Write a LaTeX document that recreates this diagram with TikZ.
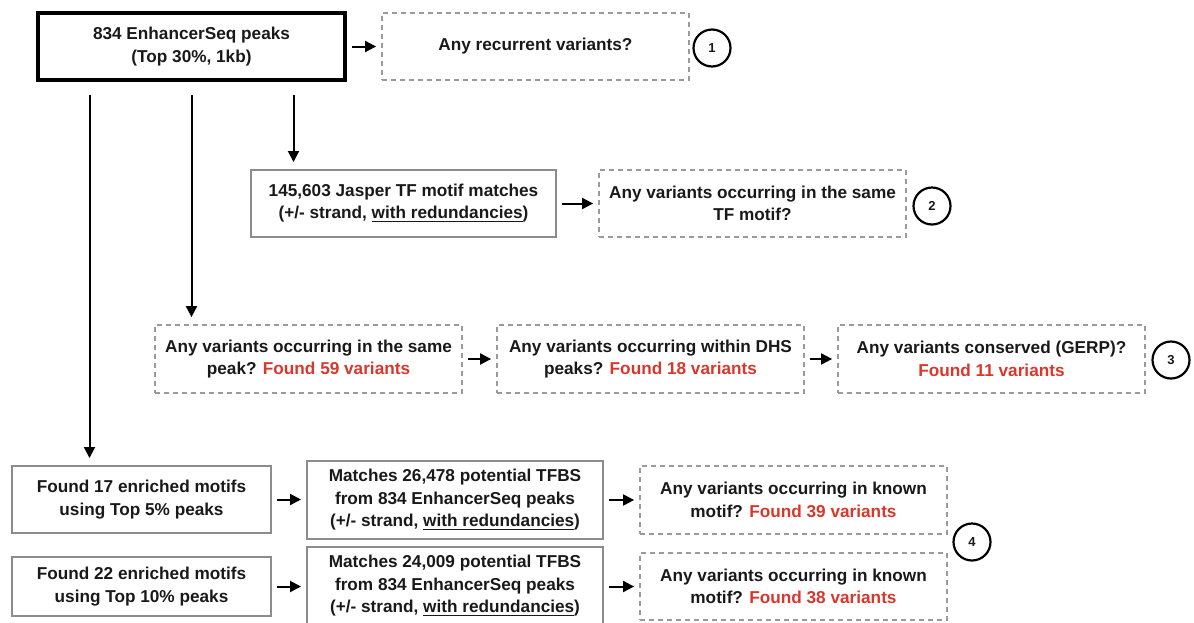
\documentclass[tikz,border=0pt]{standalone}
\usepackage{fontspec}
\setmainfont{Liberation Sans}
\usetikzlibrary{arrows.meta}
\definecolor{foundred}{HTML}{D8372C}
\definecolor{boxgray}{HTML}{8C8C8C}
\definecolor{dashgray}{HTML}{9A9A9A}
\newcommand{\found}[1]{\textcolor{foundred}{Found #1 variants}}
\begin{document}
\begin{tikzpicture}[x=0.5pt,y=-0.5pt,font=\fontsize{8.6}{11.2}\selectfont\bfseries,text=black!90,
	arr/.style={-{Triangle[length=5.5pt,width=5.5pt]},line width=1pt,shorten <=2.5pt,shorten >=2.5pt},
	mainbox/.style={draw,line width=2pt,align=center},
	graybox/.style={draw=boxgray,line width=1pt,align=center,minimum height=33.5pt},
	askbox/.style={draw=dashgray,line width=0.9pt,dash pattern=on 2.5pt off 2pt,align=center,minimum width=153.5pt,minimum height=33.5pt},
	num/.style={circle,draw,line width=1.1pt,minimum size=18.5pt,inner sep=0pt,font=\fontsize{6.5}{8}\selectfont\bfseries}]
	\useasboundingbox (0,0) rectangle (1194,622);
	% top row
	\node[mainbox,minimum width=153.5pt,minimum height=33.5pt] (peaks) at (191.5,46.5) {834 EnhancerSeq peaks\\(Top 30\%, 1kb)};
	\node[askbox] (recur) at (535.5,46.5) {Any recurrent variants?};
	\node[num] (n1) at (712,48) {1};
	% jaspar row
	\node[graybox,minimum width=152.5pt] (jaspar) at (403.5,203.5) {145,603 Jasper TF motif matches\\(+/- strand, \underline{with redundancies})};
	\node[askbox] (sametf) at (752.5,203.5) {Any variants occurring in the same\\TF motif?};
	\node[num] (n2) at (932,206) {2};
	% same peak row
	\node[askbox,minimum height=34pt] (samepeak) at (308.5,359) {Any variants occurring in the same\\peak? \found{59}};
	\node[askbox,minimum height=34pt] (dhs) at (650.5,359) {Any variants occurring within DHS\\peaks? \found{18}};
	\node[askbox,minimum height=34pt] (gerp) at (991.5,359) {Any variants conserved (GERP)?\\\found{11}};
	\node[num] (n3) at (1171,360) {3};
	% enriched motif rows
	\node[graybox,minimum width=129.5pt] (top5) at (141.5,499.5) {Found 17 enriched motifs\\using Top 5\% peaks};
	\node[graybox,minimum width=148pt,minimum height=39pt] (tfbsa) at (455,500) {Matches 26,478 potential TFBS\\from 834 EnhancerSeq peaks\\(+/- strand, \underline{with redundancies})};
	\node[askbox,minimum height=34pt] (knowna) at (793.5,500) {Any variants occurring in known\\motif? \found{39}};
	\node[graybox,minimum width=129.5pt,minimum height=29.5pt] (top10) at (141.5,586.5) {Found 22 enriched motifs\\using Top 10\% peaks};
	\node[graybox,minimum width=148pt,minimum height=39pt] (tfbsb) at (455,586) {Matches 24,009 potential TFBS\\from 834 EnhancerSeq peaks\\(+/- strand, \underline{with redundancies})};
	\node[askbox] (knownb) at (793.5,586.5) {Any variants occurring in known\\motif? \found{38}};
	\node[num] (n4) at (972,542) {4};
	% connectors
	\draw[arr] (peaks) -- (recur);
	\draw[arr] (jaspar) -- (sametf);
	\draw[arr] (samepeak) -- (dhs);
	\draw[arr] (dhs) -- (gerp);
	\draw[arr] (top5.east) -- (tfbsa.west |- top5.east);
	\draw[arr] (tfbsa) -- (knowna);
	\draw[arr] (top10.east) -- (tfbsb.west |- top10.east);
	\draw[arr] (tfbsb.east |- knownb.west) -- (knownb.west);
	\foreach \s/\t in {-51/top5,0/samepeak,51/jaspar}
		\draw[arr,shorten <=6.5pt,shorten >=3.5pt] ([xshift=\s pt]peaks.south) -- ([xshift=\s pt]peaks.south |- \t.north);
\end{tikzpicture}
\end{document}
